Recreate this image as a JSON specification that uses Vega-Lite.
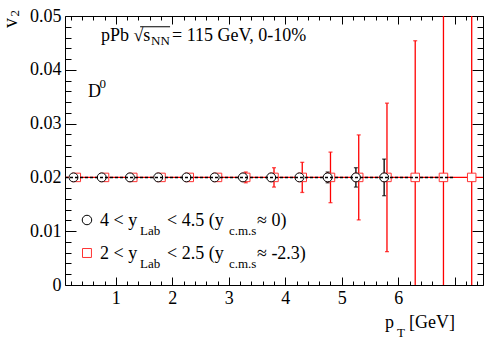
{
  "$schema": "https://vega.github.io/schema/vega-lite/v6.json",
  "width": 418,
  "height": 269,
  "autosize": {"type": "none"},
  "padding": {"left": 65, "top": 16, "right": 15, "bottom": 54},
  "background": "white",
  "config": {
    "font": "Liberation Serif",
    "view": {"stroke": "#000", "strokeWidth": 1},
    "axis": {"grid": false, "domain": false, "labelFont": "Liberation Serif", "labelFontSize": 18, "labelColor": "#000", "tickColor": "#000", "tickWidth": 1, "title": null},
    "text": {"font": "Liberation Serif", "color": "#000"}
  },
  "datasets": {
    "black": [
      {"x": 0.25, "y": 0.02}, {"x": 0.75, "y": 0.02}, {"x": 1.25, "y": 0.02}, {"x": 1.75, "y": 0.02},
      {"x": 2.25, "y": 0.02}, {"x": 2.75, "y": 0.02}, {"x": 3.25, "y": 0.02}, {"x": 3.75, "y": 0.02},
      {"x": 4.25, "y": 0.02}, {"x": 4.75, "y": 0.02}, {"x": 5.25, "y": 0.02}, {"x": 5.75, "y": 0.02}
    ],
    "blackErr": [
      {"x": 4.75, "lo": 0.019, "hi": 0.021},
      {"x": 5.25, "lo": 0.0182, "hi": 0.0218},
      {"x": 5.75, "lo": 0.0166, "hi": 0.0234}
    ],
    "red": [
      {"x": 0.3, "y": 0.02}, {"x": 0.8, "y": 0.02}, {"x": 1.3, "y": 0.02}, {"x": 1.8, "y": 0.02},
      {"x": 2.3, "y": 0.02}, {"x": 2.8, "y": 0.02}, {"x": 3.3, "y": 0.02}, {"x": 3.8, "y": 0.02},
      {"x": 4.3, "y": 0.02}, {"x": 4.8, "y": 0.02}, {"x": 5.3, "y": 0.02}, {"x": 5.8, "y": 0.02},
      {"x": 6.3, "y": 0.02}, {"x": 6.8, "y": 0.02}, {"x": 7.3, "y": 0.02}
    ],
    "redErr": [
      {"x": 3.3, "lo": 0.019, "hi": 0.021},
      {"x": 3.8, "lo": 0.0182, "hi": 0.0218},
      {"x": 4.3, "lo": 0.0172, "hi": 0.0228},
      {"x": 4.8, "lo": 0.0153, "hi": 0.0247},
      {"x": 5.3, "lo": 0.0121, "hi": 0.0279},
      {"x": 5.8, "lo": 0.0062, "hi": 0.0338},
      {"x": 6.3, "lo": -0.0054, "hi": 0.0454},
      {"x": 6.8, "lo": -0.04, "hi": 0.08},
      {"x": 7.3, "lo": -0.06, "hi": 0.1}
    ],
    "hline": [{"y": 0.02}],
    "fit": [{"x": 0.1, "x2": 7.0, "y": 0.02}],
    "overline": [{"x": 1.43, "x2": 1.96, "y": 0.048}],
    "mainText": [
      {"t": "pPb √s", "x": 0.737, "y": 0.04535},
      {"t": "= 115 GeV, 0-10%", "x": 1.994, "y": 0.04535},
      {"t": "D", "x": 0.507, "y": 0.03494},
      {"t": "4 < y", "x": 0.72, "y": 0.010967},
      {"t": "< 4.5 (y", "x": 1.906, "y": 0.010967},
      {"t": "≈ 0)", "x": 3.499, "y": 0.010967},
      {"t": "2 < y", "x": 0.72, "y": 0.004833},
      {"t": "< 2.5 (y", "x": 1.906, "y": 0.004833},
      {"t": "≈ -2.3)", "x": 3.499, "y": 0.004833},
      {"t": "p", "x": 5.765, "y": -0.007993},
      {"t": "[GeV]", "x": 6.19, "y": -0.007993}
    ],
    "subText": [
      {"t": "NN", "x": 1.6225, "y": 0.04461},
      {"t": "0", "x": 0.711, "y": 0.03662},
      {"t": "Lab", "x": 1.428, "y": 0.009294},
      {"t": "c.m.s", "x": 3.003, "y": 0.009294},
      {"t": "Lab", "x": 1.428, "y": 0.00316},
      {"t": "c.m.s", "x": 3.003, "y": 0.00316},
      {"t": "T", "x": 5.978, "y": -0.009665}
    ],
    "yTitle": [{"t": "v", "x": -0.75, "y": 0.04777}],
    "yTitleSub": [{"t": "2", "x": -0.72, "y": 0.0499}],
    "legCircle": [{"x": 0.489, "y": 0.012082}],
    "legSquare": [{"x": 0.489, "y": 0.005948}]
  },
  "resolve": {"axis": {"x": "independent", "y": "independent"}},
  "layer": [
    {
      "data": {"name": "hline"},
      "mark": {"type": "rule", "color": "#f00", "strokeWidth": 1.2},
      "encoding": {
        "y": {"field": "y", "type": "quantitative", "scale": {"domain": [0, 0.05], "nice": false, "zero": false},
          "axis": {"orient": "left", "values": [0, 0.01, 0.02, 0.03, 0.04, 0.05], "tickSize": -11, "labelPadding": 15, "labelFont": "Liberation Serif", "labelFontSize": 18, "labelExpr": "datum.value == 0 ? '0' : format(datum.value, '.2f')"}}
      }
    },
    {
      "data": {"name": "redErr"},
      "mark": {"type": "rule", "color": "#f00", "strokeWidth": 1.3, "clip": true},
      "encoding": {
        "x": {"field": "x", "type": "quantitative", "scale": {"domain": [0.1, 7.5], "nice": false, "zero": false},
          "axis": {"orient": "bottom", "values": [1, 2, 3, 4, 5, 6, 7], "tickSize": -8, "labelPadding": 12, "labelFont": "Liberation Serif", "labelFontSize": 18, "labelExpr": "datum.value == 7 ? '' : datum.label"}},
        "y": {"field": "lo", "type": "quantitative", "scale": {"domain": [0, 0.05], "nice": false, "zero": false},
          "axis": {"orient": "left", "values": [0.002, 0.004, 0.006, 0.008, 0.012, 0.014, 0.016, 0.018, 0.022, 0.024, 0.026, 0.028, 0.032, 0.034, 0.036, 0.038, 0.042, 0.044, 0.046, 0.048], "tickSize": -6, "labels": false}},
        "y2": {"field": "hi"}
      }
    },
    {
      "data": {"name": "redErr"},
      "mark": {"type": "tick", "orient": "horizontal", "color": "#f00", "size": 4, "thickness": 1.3, "clip": true},
      "encoding": {
        "x": {"field": "x", "type": "quantitative", "scale": {"domain": [0.1, 7.5], "nice": false, "zero": false},
          "axis": {"orient": "bottom", "values": [0.2, 0.4, 0.6, 0.8, 1.2, 1.4, 1.6, 1.8, 2.2, 2.4, 2.6, 2.8, 3.2, 3.4, 3.6, 3.8, 4.2, 4.4, 4.6, 4.8, 5.2, 5.4, 5.6, 5.8, 6.2, 6.4, 6.6, 6.8, 7.2, 7.4], "tickSize": -4, "labels": false}},
        "y": {"field": "lo", "type": "quantitative", "scale": {"domain": [0, 0.05], "nice": false, "zero": false},
          "axis": {"orient": "right", "values": [0, 0.01, 0.02, 0.03, 0.04, 0.05], "tickSize": -11, "labels": false}}
      }
    },
    {
      "data": {"name": "redErr"},
      "mark": {"type": "tick", "orient": "horizontal", "color": "#f00", "size": 4, "thickness": 1.3, "clip": true},
      "encoding": {
        "x": {"field": "x", "type": "quantitative", "scale": {"domain": [0.1, 7.5], "nice": false, "zero": false},
          "axis": {"orient": "top", "values": [1, 2, 3, 4, 5, 6, 7], "tickSize": -8, "labels": false}},
        "y": {"field": "hi", "type": "quantitative", "scale": {"domain": [0, 0.05], "nice": false, "zero": false},
          "axis": {"orient": "right", "values": [0.002, 0.004, 0.006, 0.008, 0.012, 0.014, 0.016, 0.018, 0.022, 0.024, 0.026, 0.028, 0.032, 0.034, 0.036, 0.038, 0.042, 0.044, 0.046, 0.048], "tickSize": -6, "labels": false}}
      }
    },
    {
      "data": {"name": "blackErr"},
      "mark": {"type": "rule", "color": "#000", "strokeWidth": 1.3},
      "encoding": {
        "x": {"field": "x", "type": "quantitative", "scale": {"domain": [0.1, 7.5], "nice": false, "zero": false},
          "axis": {"orient": "top", "values": [0.2, 0.4, 0.6, 0.8, 1.2, 1.4, 1.6, 1.8, 2.2, 2.4, 2.6, 2.8, 3.2, 3.4, 3.6, 3.8, 4.2, 4.4, 4.6, 4.8, 5.2, 5.4, 5.6, 5.8, 6.2, 6.4, 6.6, 6.8, 7.2, 7.4], "tickSize": -4, "labels": false}},
        "y": {"field": "lo", "type": "quantitative", "scale": {"domain": [0, 0.05], "nice": false, "zero": false}, "axis": null},
        "y2": {"field": "hi"}
      }
    },
    {
      "data": {"name": "blackErr"},
      "mark": {"type": "tick", "orient": "horizontal", "color": "#000", "size": 4, "thickness": 1.3},
      "encoding": {
        "x": {"field": "x", "type": "quantitative", "scale": {"domain": [0.1, 7.5], "nice": false, "zero": false}, "axis": null},
        "y": {"field": "lo", "type": "quantitative", "scale": {"domain": [0, 0.05], "nice": false, "zero": false}, "axis": null}
      }
    },
    {
      "data": {"name": "blackErr"},
      "mark": {"type": "tick", "orient": "horizontal", "color": "#000", "size": 4, "thickness": 1.3},
      "encoding": {
        "x": {"field": "x", "type": "quantitative", "scale": {"domain": [0.1, 7.5], "nice": false, "zero": false}, "axis": null},
        "y": {"field": "hi", "type": "quantitative", "scale": {"domain": [0, 0.05], "nice": false, "zero": false}, "axis": null}
      }
    },
    {
      "data": {"name": "red"},
      "mark": {"type": "point", "shape": "square", "size": 72, "filled": false, "fill": "#fff", "fillOpacity": 1, "stroke": "#f33", "strokeWidth": 1, "opacity": 1},
      "encoding": {
        "x": {"field": "x", "type": "quantitative", "scale": {"domain": [0.1, 7.5], "nice": false, "zero": false}, "axis": null},
        "y": {"field": "y", "type": "quantitative", "scale": {"domain": [0, 0.05], "nice": false, "zero": false}, "axis": null}
      }
    },
    {
      "data": {"name": "black"},
      "mark": {"type": "point", "shape": "circle", "size": 80, "filled": false, "fill": "#fff", "fillOpacity": 1, "stroke": "#000", "strokeWidth": 1, "opacity": 1},
      "encoding": {
        "x": {"field": "x", "type": "quantitative", "scale": {"domain": [0.1, 7.5], "nice": false, "zero": false}, "axis": null},
        "y": {"field": "y", "type": "quantitative", "scale": {"domain": [0, 0.05], "nice": false, "zero": false}, "axis": null}
      }
    },
    {
      "data": {"name": "fit"},
      "mark": {"type": "rule", "color": "#000", "strokeWidth": 1.5, "strokeDash": [3, 2]},
      "encoding": {
        "x": {"field": "x", "type": "quantitative", "scale": {"domain": [0.1, 7.5], "nice": false, "zero": false}, "axis": null},
        "x2": {"field": "x2"},
        "y": {"field": "y", "type": "quantitative", "scale": {"domain": [0, 0.05], "nice": false, "zero": false}, "axis": null}
      }
    },
    {
      "data": {"name": "overline"},
      "mark": {"type": "rule", "color": "#000", "strokeWidth": 1},
      "encoding": {
        "x": {"field": "x", "type": "quantitative", "scale": {"domain": [0.1, 7.5], "nice": false, "zero": false}, "axis": null},
        "x2": {"field": "x2"},
        "y": {"field": "y", "type": "quantitative", "scale": {"domain": [0, 0.05], "nice": false, "zero": false}, "axis": null}
      }
    },
    {
      "data": {"name": "legSquare"},
      "mark": {"type": "point", "shape": "square", "size": 80, "filled": false, "stroke": "#f33", "strokeWidth": 1, "opacity": 1},
      "encoding": {
        "x": {"field": "x", "type": "quantitative", "scale": {"domain": [0.1, 7.5], "nice": false, "zero": false}, "axis": null},
        "y": {"field": "y", "type": "quantitative", "scale": {"domain": [0, 0.05], "nice": false, "zero": false}, "axis": null}
      }
    },
    {
      "data": {"name": "legCircle"},
      "mark": {"type": "point", "shape": "circle", "size": 90, "filled": false, "stroke": "#000", "strokeWidth": 1, "opacity": 1},
      "encoding": {
        "x": {"field": "x", "type": "quantitative", "scale": {"domain": [0.1, 7.5], "nice": false, "zero": false}, "axis": null},
        "y": {"field": "y", "type": "quantitative", "scale": {"domain": [0, 0.05], "nice": false, "zero": false}, "axis": null}
      }
    },
    {
      "data": {"name": "mainText"},
      "mark": {"type": "text", "font": "Liberation Serif", "fontSize": 18, "align": "left", "baseline": "alphabetic"},
      "encoding": {
        "x": {"field": "x", "type": "quantitative", "scale": {"domain": [0.1, 7.5], "nice": false, "zero": false}, "axis": null},
        "y": {"field": "y", "type": "quantitative", "scale": {"domain": [0, 0.05], "nice": false, "zero": false}, "axis": null},
        "text": {"field": "t"}
      }
    },
    {
      "data": {"name": "subText"},
      "mark": {"type": "text", "font": "Liberation Serif", "fontSize": 13, "align": "left", "baseline": "alphabetic"},
      "encoding": {
        "x": {"field": "x", "type": "quantitative", "scale": {"domain": [0.1, 7.5], "nice": false, "zero": false}, "axis": null},
        "y": {"field": "y", "type": "quantitative", "scale": {"domain": [0, 0.05], "nice": false, "zero": false}, "axis": null},
        "text": {"field": "t"}
      }
    },
    {
      "data": {"name": "yTitle"},
      "mark": {"type": "text", "font": "Liberation Serif", "fontSize": 20, "align": "left", "baseline": "alphabetic", "angle": 270},
      "encoding": {
        "x": {"field": "x", "type": "quantitative", "scale": {"domain": [0.1, 7.5], "nice": false, "zero": false}, "axis": null},
        "y": {"field": "y", "type": "quantitative", "scale": {"domain": [0, 0.05], "nice": false, "zero": false}, "axis": null},
        "text": {"field": "t"}
      }
    },
    {
      "data": {"name": "yTitleSub"},
      "mark": {"type": "text", "font": "Liberation Serif", "fontSize": 13, "align": "left", "baseline": "alphabetic", "angle": 270},
      "encoding": {
        "x": {"field": "x", "type": "quantitative", "scale": {"domain": [0.1, 7.5], "nice": false, "zero": false}, "axis": null},
        "y": {"field": "y", "type": "quantitative", "scale": {"domain": [0, 0.05], "nice": false, "zero": false}, "axis": null},
        "text": {"field": "t"}
      }
    }
  ]
}
